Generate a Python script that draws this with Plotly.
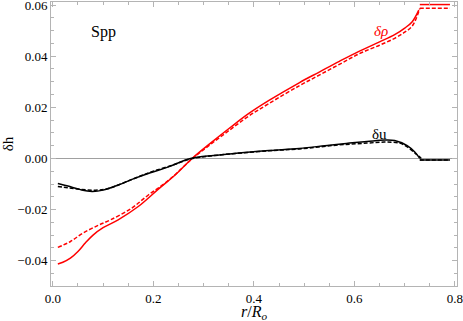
import plotly.graph_objects as go

# delta rho, full model (solid) and approximation (dashed)
rho_x = [0.01, 0.02, 0.035, 0.05, 0.065, 0.08, 0.1, 0.13, 0.17, 0.21, 0.245, 0.277,
         0.315, 0.353, 0.39, 0.43, 0.49, 0.53, 0.57, 0.61, 0.65, 0.68, 0.70, 0.715, 0.728]
rho_solid = [-0.0413, -0.0406, -0.0390, -0.0364, -0.0330, -0.0300, -0.0271, -0.0240,
             -0.0188, -0.0120, -0.0062, 0.0, 0.0062, 0.0121, 0.0176, 0.0227, 0.0296,
             0.0338, 0.0380, 0.0420, 0.0456, 0.0484, 0.0510, 0.0535, 0.0580]
rho_dash_x = [0.01, 0.035, 0.06, 0.09, 0.115, 0.155, 0.19, 0.23, 0.277, 0.315, 0.353,
              0.39, 0.43, 0.49, 0.53, 0.57, 0.61, 0.65, 0.68, 0.70, 0.715, 0.73]
rho_dash = [-0.0348, -0.0325, -0.0292, -0.0262, -0.0240, -0.0197, -0.0143, -0.0086,
            -0.0002, 0.0057, 0.0113, 0.0166, 0.0215, 0.0284, 0.0326, 0.0368, 0.0410,
            0.0443, 0.0470, 0.0494, 0.0518, 0.0587]
rho_tail_x = [0.73, 0.79]
rho_tail_solid = [0.0602, 0.0602]
rho_tail_dash = [0.0588, 0.0588]

# delta u
u_x = [0.01, 0.03, 0.055, 0.078, 0.10, 0.13, 0.16, 0.194, 0.23, 0.274, 0.32, 0.37,
       0.43, 0.49, 0.55, 0.59, 0.625, 0.66, 0.68, 0.705, 0.72, 0.73]
u_solid = [-0.0098, -0.0108, -0.0122, -0.0129, -0.0124, -0.0104, -0.0080, -0.0056,
           -0.0033, 0.0, 0.0012, 0.0021, 0.0031, 0.0039, 0.0052, 0.0060, 0.0066,
           0.0072, 0.0070, 0.0050, 0.0025, 0.0]
u_dash_x = [0.01, 0.03, 0.055, 0.085, 0.11, 0.14, 0.17, 0.20, 0.24, 0.274, 0.32,
            0.43, 0.49, 0.57, 0.625, 0.66, 0.69, 0.705, 0.72, 0.733]
u_dash = [-0.0110, -0.0115, -0.0121, -0.0124, -0.0118, -0.0096, -0.0072, -0.0050,
          -0.0025, -0.0002, 0.0011, 0.0030, 0.0037, 0.0053, 0.0060, 0.0064, 0.0060,
          0.0045, 0.0022, 0.0]
u_tail_x = [0.73, 0.79]
u_tail = [-0.0006, -0.0006]

RED = "rgb(255,0,0)"
FONT = "Liberation Serif, Times New Roman, DejaVu Serif, serif"
FRAME = "#b4b4b4"

fig = go.Figure()

def add(x, y, color, dash):
    fig.add_trace(go.Scatter(x=x, y=y, mode="lines",
                             line=dict(color=color, width=1.5, dash=dash,
                                       shape="spline", smoothing=1.0)))

add(rho_x, rho_solid, RED, "solid")
add(rho_dash_x, rho_dash, RED, "4px,2px")
add(rho_tail_x, rho_tail_solid, RED, "solid")
add(rho_tail_x, rho_tail_dash, RED, "4px,2px")
add(u_x, u_solid, "black", "solid")
add(u_dash_x, u_dash, "black", "4px,2px")
add(u_tail_x, u_tail, "black", "solid")
add(u_tail_x, u_tail, "black", "4px,2px")

fig.add_annotation(x=0.1, y=0.0496, text="Spp", showarrow=False,
                   font=dict(family=FONT, size=16, color="black"))
fig.add_annotation(x=0.652, y=0.050, text="<i>δρ</i>", showarrow=False,
                   font=dict(family=FONT, size=15, color=RED))
fig.add_annotation(x=0.65, y=0.0094, text="δu", showarrow=False,
                   font=dict(family=FONT, size=15, color="black"))
# x axis title
fig.add_annotation(x=0.4, xref="x", y=0, yref="paper", yshift=-26, yanchor="middle",
                   text="<i>r</i>/<i>R</i><sub><i>o</i></sub>", showarrow=False,
                   font=dict(family=FONT, size=16, color="black"))

axis_common = dict(showline=True, linecolor=FRAME, linewidth=1, mirror="ticks",
                   ticks="inside", ticklen=5, tickcolor=FRAME, showgrid=False,
                   ticklabeloverflow="allow", automargin=False,
                   tickfont=dict(family=FONT, size=13, color="black"))

fig.update_xaxes(range=[-0.0036, 0.804], tickvals=[0.0, 0.2, 0.4, 0.6, 0.8],
                 tickformat=".1f", zeroline=False,
                 minor=dict(dtick=0.05, tick0=0, ticks="inside", ticklen=3,
                            tickcolor=FRAME),
                 **axis_common)
fig.update_yaxes(range=[-0.0499, 0.0612], tickvals=[-0.04, -0.02, 0.0, 0.02, 0.04, 0.06],
                 tickformat=".2f", zeroline=True, zerolinecolor="#a0a0a0", zerolinewidth=1,
                 minor=dict(dtick=0.005, tick0=0, ticks="inside", ticklen=3,
                            tickcolor=FRAME),
                 title=dict(text="δh", standoff=4,
                            font=dict(family=FONT, size=15, color="black")),
                 **axis_common)

fig.update_layout(width=463, height=321, showlegend=False,
                  margin=dict(l=51, r=6, t=2, b=35),
                  paper_bgcolor="white", plot_bgcolor="white")

# page body has a default margin; drop it so the chart sits at the window corner
fig.write_html("out.html", config={"displayModeBar": False},
               post_script="document.body.style.margin='0';")
